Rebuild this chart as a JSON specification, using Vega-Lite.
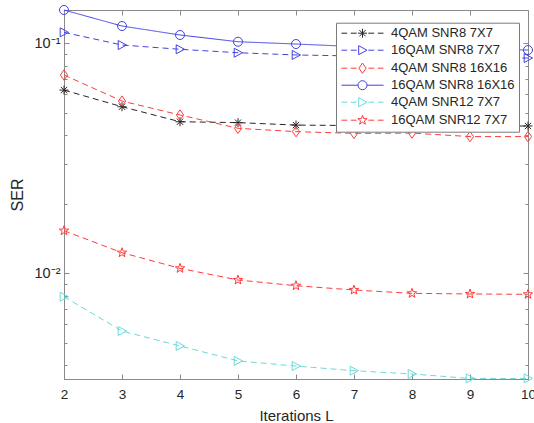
{
  "$schema": "https://vega.github.io/schema/vega-lite/v6.json",
  "width": 464,
  "height": 369,
  "autosize": {"type": "none"},
  "padding": {"left": 64, "top": 10, "right": 6, "bottom": 44},
  "background": "white",
  "config": {
    "view": {"stroke": "#8a8a8a", "strokeWidth": 1},
    "font": "Liberation Sans"
  },
  "data": {
    "values": [
      {"series": "4QAM SNR8 7X7", "L": 2, "SER": 0.0626},
      {"series": "4QAM SNR8 7X7", "L": 3, "SER": 0.0530},
      {"series": "4QAM SNR8 7X7", "L": 4, "SER": 0.0456},
      {"series": "4QAM SNR8 7X7", "L": 5, "SER": 0.0452},
      {"series": "4QAM SNR8 7X7", "L": 6, "SER": 0.0441},
      {"series": "4QAM SNR8 7X7", "L": 7, "SER": 0.0439},
      {"series": "4QAM SNR8 7X7", "L": 8, "SER": 0.0437},
      {"series": "4QAM SNR8 7X7", "L": 9, "SER": 0.0437},
      {"series": "4QAM SNR8 7X7", "L": 10, "SER": 0.0437},
      {"series": "16QAM SNR8 7X7", "L": 2, "SER": 0.1116},
      {"series": "16QAM SNR8 7X7", "L": 3, "SER": 0.0983},
      {"series": "16QAM SNR8 7X7", "L": 4, "SER": 0.0942},
      {"series": "16QAM SNR8 7X7", "L": 5, "SER": 0.0910},
      {"series": "16QAM SNR8 7X7", "L": 6, "SER": 0.0890},
      {"series": "16QAM SNR8 7X7", "L": 7, "SER": 0.0881},
      {"series": "16QAM SNR8 7X7", "L": 8, "SER": 0.0872},
      {"series": "16QAM SNR8 7X7", "L": 9, "SER": 0.0868},
      {"series": "16QAM SNR8 7X7", "L": 10, "SER": 0.0863},
      {"series": "4QAM SNR8 16X16", "L": 2, "SER": 0.0728},
      {"series": "4QAM SNR8 16X16", "L": 3, "SER": 0.0561},
      {"series": "4QAM SNR8 16X16", "L": 4, "SER": 0.0488},
      {"series": "4QAM SNR8 16X16", "L": 5, "SER": 0.0427},
      {"series": "4QAM SNR8 16X16", "L": 6, "SER": 0.0413},
      {"series": "4QAM SNR8 16X16", "L": 7, "SER": 0.0406},
      {"series": "4QAM SNR8 16X16", "L": 8, "SER": 0.0407},
      {"series": "4QAM SNR8 16X16", "L": 9, "SER": 0.0393},
      {"series": "4QAM SNR8 16X16", "L": 10, "SER": 0.0393},
      {"series": "16QAM SNR8 16X16", "L": 2, "SER": 0.1396},
      {"series": "16QAM SNR8 16X16", "L": 3, "SER": 0.1189},
      {"series": "16QAM SNR8 16X16", "L": 4, "SER": 0.1087},
      {"series": "16QAM SNR8 16X16", "L": 5, "SER": 0.1016},
      {"series": "16QAM SNR8 16X16", "L": 6, "SER": 0.0993},
      {"series": "16QAM SNR8 16X16", "L": 7, "SER": 0.0968},
      {"series": "16QAM SNR8 16X16", "L": 8, "SER": 0.0954},
      {"series": "16QAM SNR8 16X16", "L": 9, "SER": 0.0945},
      {"series": "16QAM SNR8 16X16", "L": 10, "SER": 0.0935},
      {"series": "4QAM SNR12 7X7", "L": 2, "SER": 0.00791},
      {"series": "4QAM SNR12 7X7", "L": 3, "SER": 0.00561},
      {"series": "4QAM SNR12 7X7", "L": 4, "SER": 0.00483},
      {"series": "4QAM SNR12 7X7", "L": 5, "SER": 0.00416},
      {"series": "4QAM SNR12 7X7", "L": 6, "SER": 0.00395},
      {"series": "4QAM SNR12 7X7", "L": 7, "SER": 0.00377},
      {"series": "4QAM SNR12 7X7", "L": 8, "SER": 0.00365},
      {"series": "4QAM SNR12 7X7", "L": 9, "SER": 0.00349},
      {"series": "4QAM SNR12 7X7", "L": 10, "SER": 0.00349},
      {"series": "16QAM SNR12 7X7", "L": 2, "SER": 0.01532},
      {"series": "16QAM SNR12 7X7", "L": 3, "SER": 0.01229},
      {"series": "16QAM SNR12 7X7", "L": 4, "SER": 0.01051},
      {"series": "16QAM SNR12 7X7", "L": 5, "SER": 0.00935},
      {"series": "16QAM SNR12 7X7", "L": 6, "SER": 0.00883},
      {"series": "16QAM SNR12 7X7", "L": 7, "SER": 0.00846},
      {"series": "16QAM SNR12 7X7", "L": 8, "SER": 0.00818},
      {"series": "16QAM SNR12 7X7", "L": 9, "SER": 0.00813},
      {"series": "16QAM SNR12 7X7", "L": 10, "SER": 0.00810}
    ]
  },
  "resolve": {
    "scale": {"color": "independent", "shape": "independent", "strokeDash": "independent"},
    "axis": {"x": "independent", "y": "independent"}
  },
  "layer": [
    {
      "mark": {"type": "line", "strokeWidth": 1},
      "encoding": {
        "x": {
          "field": "L", "type": "quantitative",
          "scale": {"domain": [2, 10], "nice": false, "zero": false},
          "axis": {
            "orient": "bottom", "values": [2, 3, 4, 5, 6, 7, 8, 9, 10], "grid": false,
            "title": "Iterations L", "titleFontSize": 15, "titleFontWeight": "normal", "titleColor": "#262626",
            "titlePadding": 8, "titleFont": "Liberation Sans",
            "labelFontSize": 13.5, "labelColor": "#262626", "labelFont": "Liberation Sans", "labelPadding": 13,
            "tickSize": -5, "tickColor": "#8a8a8a", "domainColor": "#8a8a8a", "labelFlush": false
          }
        },
        "y": {
          "field": "SER", "type": "quantitative",
          "scale": {"type": "log", "domain": [0.00347, 0.1396], "nice": false, "zero": false},
          "axis": {
            "orient": "left",
            "values": [0.004, 0.005, 0.006, 0.007, 0.008, 0.009, 0.01, 0.02, 0.03, 0.04, 0.05, 0.06, 0.07, 0.08, 0.09, 0.1],
            "labelExpr": "datum.value == 0.1 ? '10⁻¹' : (datum.value == 0.01 ? '10⁻²' : '')",
            "grid": false, "title": "SER", "titleFontSize": 16, "titleFontWeight": "normal", "titleColor": "#262626",
            "titleFont": "Liberation Sans", "titlePadding": 9,
            "labelFontSize": 14.5, "labelColor": "#262626", "labelFont": "Liberation Sans", "labelPadding": 9,
            "tickSize": {"condition": {"test": "datum.value == 0.1 || datum.value == 0.01", "value": -5}, "value": -3},
            "tickColor": "#8a8a8a", "domainColor": "#8a8a8a", "labelFlush": false
          }
        },
        "color": {
          "field": "series", "type": "nominal", "legend": null,
          "scale": {
            "domain": ["4QAM SNR8 7X7", "16QAM SNR8 7X7", "4QAM SNR8 16X16", "16QAM SNR8 16X16", "4QAM SNR12 7X7", "16QAM SNR12 7X7"],
            "range": ["#262626", "#4242e0", "#ff3b3b", "#4242e0", "#6adada", "#ff3b3b"]
          }
        },
        "strokeDash": {
          "field": "series", "type": "nominal", "legend": null,
          "scale": {
            "domain": ["4QAM SNR8 7X7", "16QAM SNR8 7X7", "4QAM SNR8 16X16", "16QAM SNR8 16X16", "4QAM SNR12 7X7", "16QAM SNR12 7X7"],
            "range": [[6, 4], [6, 4], [6, 4], [1, 0], [6, 4], [6, 4]]
          }
        },
        "order": {"field": "L", "type": "quantitative"}
      }
    },
    {
      "mark": {"type": "point", "filled": false, "strokeWidth": 1, "size": 81, "opacity": 1},
      "encoding": {
        "x": {"field": "L", "type": "quantitative", "axis": null},
        "y": {"field": "SER", "type": "quantitative", "axis": null},
        "color": {
          "field": "series", "type": "nominal", "legend": null,
          "scale": {
            "domain": ["4QAM SNR8 7X7", "16QAM SNR8 7X7", "4QAM SNR8 16X16", "16QAM SNR8 16X16", "4QAM SNR12 7X7", "16QAM SNR12 7X7"],
            "range": ["#262626", "#4242e0", "#ff3b3b", "#4242e0", "#6adada", "#ff3b3b"]
          }
        },
        "shape": {
          "field": "series", "type": "nominal", "legend": null,
          "scale": {
            "domain": ["4QAM SNR8 7X7", "16QAM SNR8 7X7", "4QAM SNR8 16X16", "16QAM SNR8 16X16", "4QAM SNR12 7X7", "16QAM SNR12 7X7"],
            "range": [
              "M-1,0H1M0,-1V1M-0.7,-0.7L0.7,0.7M-0.7,0.7L0.7,-0.7",
              "M-0.85,-1L1,0L-0.85,1Z",
              "M0,-1.15L0.8,0L0,1.15L-0.8,0Z",
              "M1,0A1,1,0,1,1,-1,0A1,1,0,1,1,1,0Z",
              "M-0.85,-1L1,0L-0.85,1Z",
              "M0,-1.1L0.259,-0.356L1.046,-0.34L0.418,0.136L0.647,0.89L0,0.44L-0.647,0.89L-0.418,0.136L-1.046,-0.34L-0.259,-0.356Z"
            ]
          }
        }
      }
    },
    {
      "mark": {"type": "point", "filled": false, "strokeWidth": 1, "size": 81, "opacity": 0},
      "encoding": {
        "x": {
          "field": "L", "type": "quantitative",
          "axis": {"orient": "top", "values": [2, 3, 4, 5, 6, 7, 8, 9, 10], "labels": false, "title": null, "grid": false,
                   "domain": false, "tickSize": -5, "tickColor": "#8a8a8a"}
        },
        "y": {
          "field": "SER", "type": "quantitative",
          "axis": {"orient": "right",
                   "values": [0.004, 0.005, 0.006, 0.007, 0.008, 0.009, 0.01, 0.02, 0.03, 0.04, 0.05, 0.06, 0.07, 0.08, 0.09, 0.1],
                   "labels": false, "title": null, "grid": false, "domain": false,
                   "tickSize": {"condition": {"test": "datum.value == 0.1 || datum.value == 0.01", "value": -5}, "value": -3},
                   "tickColor": "#8a8a8a"}
        },
        "color": {
          "field": "series", "type": "nominal",
          "scale": {
            "domain": ["4QAM SNR8 7X7", "16QAM SNR8 7X7", "4QAM SNR8 16X16", "16QAM SNR8 16X16", "4QAM SNR12 7X7", "16QAM SNR12 7X7"],
            "range": ["#262626", "#4242e0", "#ff3b3b", "#4242e0", "#6adada", "#ff3b3b"]
          },
          "legend": {
            "title": null, "orient": "none", "legendX": 272, "legendY": 12.7,
            "strokeColor": "#7a7a7a", "fillColor": "white", "padding": 4, "rowPadding": 3,
            "symbolSize": 81, "symbolOpacity": 1, "symbolStrokeWidth": 1,
            "symbolOffset": 16, "labelOffset": 22,
            "labelFontSize": 13, "labelFont": "Liberation Sans", "labelColor": "#262626", "labelLimit": 200
          }
        },
        "shape": {
          "field": "series", "type": "nominal",
          "scale": {
            "domain": ["4QAM SNR8 7X7", "16QAM SNR8 7X7", "4QAM SNR8 16X16", "16QAM SNR8 16X16", "4QAM SNR12 7X7", "16QAM SNR12 7X7"],
            "range": [
              "M-4.67,0H-3.4M-2.6,0H-1.3M1.3,0H2.6M3.4,0H4.67M-1,0H1M0,-1V1M-0.7,-0.7L0.7,0.7M-0.7,0.7L0.7,-0.7",
              "M-4.67,0H-3.4M-2.6,0H-1.3M1.3,0H2.6M3.4,0H4.67M-0.85,-1L1,0L-0.85,1Z",
              "M-4.67,0H-3.4M-2.6,0H-1.3M1.3,0H2.6M3.4,0H4.67M0,-1.15L0.8,0L0,1.15L-0.8,0Z",
              "M-4.67,0H-1M1,0H4.67M1,0A1,1,0,1,1,-1,0A1,1,0,1,1,1,0Z",
              "M-4.67,0H-3.4M-2.6,0H-1.3M1.3,0H2.6M3.4,0H4.67M-0.85,-1L1,0L-0.85,1Z",
              "M-4.67,0H-3.4M-2.6,0H-1.3M1.3,0H2.6M3.4,0H4.67M0,-1.1L0.259,-0.356L1.046,-0.34L0.418,0.136L0.647,0.89L0,0.44L-0.647,0.89L-0.418,0.136L-1.046,-0.34L-0.259,-0.356Z"
            ]
          },
          "legend": {
            "title": null, "orient": "none", "legendX": 272, "legendY": 12.7,
            "strokeColor": "#7a7a7a", "fillColor": "white", "padding": 4, "rowPadding": 3,
            "symbolSize": 81, "symbolOpacity": 1, "symbolStrokeWidth": 1,
            "symbolOffset": 16, "labelOffset": 22,
            "labelFontSize": 13, "labelFont": "Liberation Sans", "labelColor": "#262626", "labelLimit": 200
          }
        }
      }
    }
  ]
}
